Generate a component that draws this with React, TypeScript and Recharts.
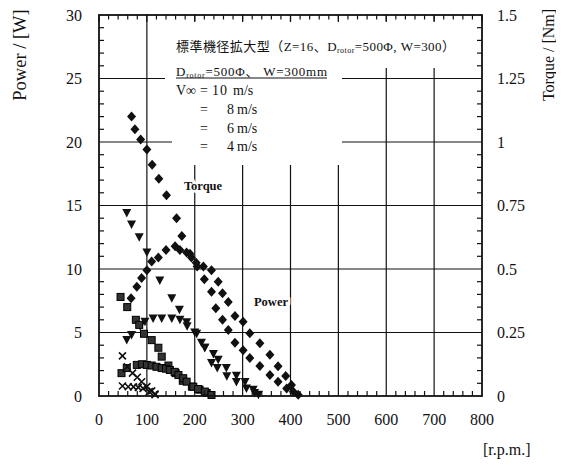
import React from 'react';
import { ComposedChart, Scatter, XAxis, YAxis, CartesianGrid } from 'recharts';

const SERIF = '"Liberation Serif", "Times New Roman", "DejaVu Serif", serif';
const JP = '"Liberation Serif", "Noto Sans CJK JP", serif';
const INK = '#111';

// V∞ = 10 m/s (diamonds)
const torqueRpm10 = [68, 75, 87, 100, 111, 125, 141, 162, 173, 190, 205, 220, 235, 244, 258, 270, 284, 301, 315, 336, 357, 374, 392, 406];
const torque10 = [1.1, 1.05, 1.01, 0.97, 0.91, 0.855, 0.79, 0.7, 0.63, 0.56, 0.51, 0.46, 0.41, 0.345, 0.3, 0.26, 0.21, 0.18, 0.15, 0.118, 0.083, 0.056, 0.03, 0.017];
const powerRpm10 = [67, 79, 89, 100, 110, 124, 140, 159, 169, 183, 193, 203, 218, 235, 249, 258, 270, 284, 301, 315, 336, 357, 374, 390, 402, 416];
const power10 = [7.7, 8.6, 9.3, 9.9, 10.6, 10.9, 11.5, 11.8, 11.5, 11.3, 10.9, 10.5, 10.2, 9.9, 9.0, 8.1, 7.4, 6.3, 5.85, 4.95, 4.15, 3.25, 2.35, 1.57, 0.87, 0.1];

// 8 m/s (inverted triangles)
const torqueRpm8 = [58, 68, 84, 100, 127, 152, 168, 183, 204, 221, 235, 247, 267, 287, 308, 325];
const torque8 = [0.72, 0.675, 0.625, 0.565, 0.455, 0.385, 0.34, 0.29, 0.245, 0.19, 0.13, 0.11, 0.078, 0.055, 0.03, 0.012];
const powerRpm8 = [58, 68, 86, 96, 113, 131, 152, 169, 184, 200, 214, 221, 239, 249, 266, 287, 305, 322, 333];
const power8 = [4.4, 4.8, 5.5, 5.85, 6.1, 6.1, 6.1, 6.0, 5.5, 5.0, 4.2, 3.8, 3.3, 2.85, 2.2, 1.6, 1.1, 0.5, 0.1];

// 6 m/s (squares)
const torqueRpm6 = [45, 59, 77, 84, 94, 110, 124, 131, 145, 160, 175, 194, 210, 225];
const torque6 = [0.39, 0.35, 0.3, 0.28, 0.245, 0.22, 0.19, 0.155, 0.12, 0.09, 0.06, 0.037, 0.025, 0.012];
const powerRpm6 = [47, 58, 79, 90, 100, 110, 120, 131, 140, 148, 158, 166, 176, 183, 197, 207, 221, 235];
const power6 = [1.8, 2.2, 2.45, 2.5, 2.45, 2.4, 2.3, 2.2, 2.15, 2.05, 1.9, 1.65, 1.4, 1.13, 0.73, 0.55, 0.35, 0.08];

// 4 m/s (crosses)
const torqueRpm4 = [49, 59, 70, 80, 89, 100, 110, 117];
const torque4 = [0.158, 0.115, 0.09, 0.074, 0.056, 0.037, 0.02, 0.008];
const powerRpm4 = [49, 61, 72, 82, 92, 105, 117];
const power4 = [0.79, 0.73, 0.72, 0.68, 0.6, 0.34, 0.1];

// axes
const xTicks = Array.from({ length: 41 }, (_, i) => i * 20);
const xLabels = [0, 100, 200, 300, 400, 500, 600, 700, 800];
const powerTicks = Array.from({ length: 31 }, (_, i) => i);
const powerLabels = [0, 5, 10, 15, 20, 25, 30];
const torqueTicks = Array.from({ length: 31 }, (_, i) => Math.round(i * 5) / 100);
const torqueLabels = [0, 0.25, 0.5, 0.75, 1, 1.25, 1.5];

// plot box (chart margins + axis sizes give the same box)
const W = 556;
const H = 457;
const LEFT = 91;
const RIGHT_W = 82;
const TOP = 7;
const BOTTOM_H = 69;
const PW = W - LEFT - RIGHT_W;
const PH = H - TOP - BOTTOM_H;
const sx = (rpm: number) => LEFT + (rpm / 800) * PW;
const sy = (w: number) => TOP + PH - (w / 30) * PH;
const st = (t: number) => TOP + PH - (t / 1.5) * PH;

const isLabel = (list: number[], v: number) => list.some((l) => Math.abs(l - v) < 1e-6);

const pts = (xs: number[], ys: number[], key: 'w' | 't') =>
  xs.map((rpm, i) => ({ rpm, [key]: ys[i] }));

const Diamond = ({ cx, cy }: any) => (
  <path d={`M${cx} ${cy - 5}L${cx + 4.5} ${cy}L${cx} ${cy + 5}L${cx - 4.5} ${cy}Z`} fill={INK} />
);
const TriDown = ({ cx, cy }: any) => (
  <path d={`M${cx - 4.5} ${cy - 4}L${cx + 4.5} ${cy - 4}L${cx} ${cy + 4.5}Z`} fill={INK} />
);
const Square = ({ cx, cy }: any) => (
  <rect x={cx - 3.5} y={cy - 3.5} width={7} height={7} fill="#333" stroke="#000" strokeWidth={1} />
);
const Cross = ({ cx, cy }: any) => (
  <path
    d={`M${cx - 3.5} ${cy - 3.5}L${cx + 3.5} ${cy + 3.5}M${cx + 3.5} ${cy - 3.5}L${cx - 3.5} ${cy + 3.5}`}
    stroke={INK}
    strokeWidth={1.6}
  />
);

const BottomTick = ({ x, y, payload }: any) => {
  const v = payload.value as number;
  if (!isLabel(xLabels, v)) return <g />;
  return (
    <text x={x} y={y + 29} textAnchor="middle" fontSize={16} fontFamily={SERIF} fill={INK}>
      {v}
    </text>
  );
};

const LeftTick = ({ x, y, payload }: any) => {
  const v = payload.value as number;
  if (!isLabel(powerLabels, v)) return <g />;
  return (
    <text x={x - 17} y={y} dy="0.35em" textAnchor="end" fontSize={16} fontFamily={SERIF} fill={INK}>
      {v}
    </text>
  );
};

const RightTick = ({ x, y, payload }: any) => {
  const v = payload.value as number;
  if (!isLabel(torqueLabels, v)) return <g />;
  return (
    <text x={x + 15} y={y} dy="0.35em" textAnchor="start" fontSize={16} fontFamily={SERIF} fill={INK}>
      {v}
    </text>
  );
};

export default function App() {
  const bottom = TOP + PH;
  const right = LEFT + PW;
  return (
    <div style={{ position: 'relative', width: W, height: H, background: '#fff' }}>
      <ComposedChart width={W} height={H} margin={{ top: 0, right: 0, bottom: 0, left: 0 }}>
        <CartesianGrid
          xAxisId="bottom"
          yAxisId="p"
          verticalValues={xLabels.slice(1, -1)}
          horizontalValues={powerLabels.slice(1, -1)}
          stroke={INK}
          strokeWidth={1.2}
        />
        <XAxis
          xAxisId="bottom"
          dataKey="rpm"
          type="number"
          domain={[0, 800]}
          ticks={xTicks}
          interval={0}
          height={BOTTOM_H}
          tickSize={0}
          tickMargin={0}
          tickLine={false}
          axisLine={false}
          tick={BottomTick}
        />
        <XAxis
          xAxisId="top"
          orientation="top"
          dataKey="rpm"
          type="number"
          domain={[0, 800]}
          height={TOP}
          tick={false}
          tickLine={false}
          axisLine={false}
        />
        <YAxis
          yAxisId="p"
          dataKey="w"
          type="number"
          domain={[0, 30]}
          ticks={powerTicks}
          interval={0}
          width={LEFT}
          tickSize={0}
          tickMargin={0}
          tickLine={false}
          axisLine={false}
          tick={LeftTick}
        />
        <YAxis
          yAxisId="t"
          orientation="right"
          dataKey="t"
          type="number"
          domain={[0, 1.5]}
          ticks={torqueTicks}
          interval={0}
          width={RIGHT_W}
          tickSize={0}
          tickMargin={0}
          tickLine={false}
          axisLine={false}
          tick={RightTick}
        />
        <Scatter xAxisId="bottom" yAxisId="t" data={pts(torqueRpm10, torque10, 't')} shape={Diamond} isAnimationActive={false} />
        <Scatter xAxisId="bottom" yAxisId="p" data={pts(powerRpm10, power10, 'w')} shape={Diamond} isAnimationActive={false} />
        <Scatter xAxisId="bottom" yAxisId="t" data={pts(torqueRpm8, torque8, 't')} shape={TriDown} isAnimationActive={false} />
        <Scatter xAxisId="bottom" yAxisId="p" data={pts(powerRpm8, power8, 'w')} shape={TriDown} isAnimationActive={false} />
        <Scatter xAxisId="bottom" yAxisId="t" data={pts(torqueRpm6, torque6, 't')} shape={Square} isAnimationActive={false} />
        <Scatter xAxisId="bottom" yAxisId="p" data={pts(powerRpm6, power6, 'w')} shape={Square} isAnimationActive={false} />
        <Scatter xAxisId="bottom" yAxisId="t" data={pts(torqueRpm4, torque4, 't')} shape={Cross} isAnimationActive={false} />
        <Scatter xAxisId="bottom" yAxisId="p" data={pts(powerRpm4, power4, 'w')} shape={Cross} isAnimationActive={false} />
      </ComposedChart>

      <svg width={W} height={H} style={{ position: 'absolute', left: 0, top: 0, pointerEvents: 'none' }}>
        {/* blank area behind the caption block */}
        <rect x={157} y={13} width={316} height={47} fill="#fff" />
        <rect x={157} y={60} width={177} height={13} fill="#fff" />
        <rect x={164} y={73} width={170} height={84} fill="#fff" />

        {/* frame with inward ticks */}
        <g stroke={INK} strokeWidth={1.2}>
          {xTicks.map((v) => (
            <line key={`tt${v}`} x1={sx(v)} y1={TOP} x2={sx(v)} y2={TOP + (isLabel(xLabels, v) ? 7 : 4.5)} />
          ))}
          {xTicks.filter((v) => !isLabel(xLabels, v)).map((v) => (
            <line key={`bt${v}`} x1={sx(v)} y1={bottom} x2={sx(v)} y2={bottom - 5} />
          ))}
          {powerTicks.filter((v) => !isLabel(powerLabels, v)).map((v) => (
            <line key={`lt${v}`} x1={LEFT} y1={sy(v)} x2={LEFT + 5} y2={sy(v)} />
          ))}
          {torqueTicks.filter((v) => !isLabel(torqueLabels, v)).map((v) => (
            <line key={`rt${v}`} x1={right} y1={st(v)} x2={right - 5} y2={st(v)} />
          ))}
        </g>
        <rect x={LEFT} y={TOP} width={PW} height={PH} fill="none" stroke={INK} strokeWidth={1.8} />

        <g fontFamily={JP} fill={INK} fontSize={13}>
          <text x={168} y={43} textLength={279} lengthAdjust="spacing">
            標準機径拡大型（Z=16、D<tspan fontSize={8} dy={2}>rotor</tspan>
            <tspan dy={-2}>=500Φ, W=300）</tspan>
          </text>
          <text x={168} y={67.5} textLength={151} lengthAdjust="spacing">
            D<tspan fontSize={8} dy={2}>rotor</tspan>
            <tspan dy={-2}>=500Φ、 W=300mm</tspan>
          </text>
          <line x1={168} y1={70} x2={319} y2={70} stroke={INK} strokeWidth={1} />
        </g>
        <g fontFamily={SERIF} fill={INK} fontSize={14}>
          <text x={168} y={87}>V∞</text>
          <text x={192} y={87}>=</text>
          <text x={204} y={87}>1</text>
          <text x={212} y={87}>0</text>
          <text x={225} y={87}>m/s</text>
          <text x={192} y={106}>=</text>
          <text x={219} y={106}>8</text>
          <text x={229} y={106}>m/s</text>
          <text x={192} y={124.5}>=</text>
          <text x={219} y={124.5}>6</text>
          <text x={229} y={124.5}>m/s</text>
          <text x={192} y={143}>=</text>
          <text x={219} y={143}>4</text>
          <text x={229} y={143}>m/s</text>
        </g>

        <g fontFamily={SERIF} fill={INK} fontSize={12.5} fontWeight="bold" stroke="#fff" strokeWidth={5} paintOrder="stroke">
          <text x={195} y={181.5} textAnchor="middle">Torque</text>
          <text x={263} y={297.5} textAnchor="middle">Power</text>
        </g>

        <text transform="translate(18,47) rotate(-90)" textAnchor="middle" fontFamily={SERIF} fontSize={18.5} fill={INK}>
          Power / [W]
        </text>
        <text transform="translate(546,47) rotate(-90)" textAnchor="middle" fontFamily={SERIF} fontSize={16} fill={INK}>
          Torque / [Nm]
        </text>
        <text x={475} y={447} fontFamily={SERIF} fontSize={16} fill={INK}>
          [r.p.m.]
        </text>
      </svg>
    </div>
  );
}
